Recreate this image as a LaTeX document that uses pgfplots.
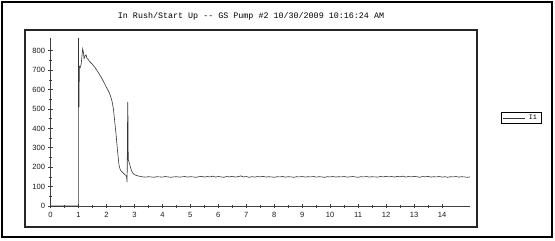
\documentclass[border=0pt]{standalone}
\usepackage{fontspec}
\setmainfont{Liberation Sans}
\setmonofont{Liberation Mono}
\usepackage{pgfplots}
\pgfplotsset{compat=1.18}
\begin{document}
\begin{tikzpicture}[x=1bp,y=1bp]
% pixel (px,py) -> (px-50.5, 206-py)
\useasboundingbox (-50.5,206) rectangle (504.5,-34);
\draw[line width=1.3bp,black] (-48.5,204) rectangle (501.5,-31);
\draw[line width=1.3bp,black!85] (-25.5,176) rectangle (426.5,-21);
\node[font=\ttfamily\fontsize{8.4}{9}\selectfont] at (200.5,190) {In Rush/Start Up -- GS Pump \#2 10/30/2009 10:16:24 AM};
\begin{axis}[
  at={(0,0)}, anchor=south west, scale only axis,
  width=419.5bp, height=168bp,
  xmin=0, xmax=15, ymin=0, ymax=866,
  clip=false,
  axis lines=left,
  axis line style={-, black!75, line width=0.9bp},
  xtick={0,1,...,14}, ytick={0,100,...,800},
  minor x tick num=1, minor y tick num=1,
  tick align=center,
  major tick length=4bp, minor tick length=3bp,
  every tick/.style={black!75, line width=0.8bp},
  ticklabel style={font=\fontsize{7.6}{8}\selectfont, text=black!90},
  /pgf/number format/assume math mode=true,
  xticklabel style={yshift=-0.5bp},
  legend style={at={(1.123,0.521)}, anchor=center, draw=black, line width=1bp,
    font=\ttfamily\fontsize{6.8}{7}\selectfont, inner sep=0.5bp, row sep=0pt,
    nodes={inner ysep=2bp, inner xsep=4bp}},
  legend image code/.code={\draw[#1] (2bp,0bp) -- (24bp,0bp);},
]
\addplot[black!80, line width=0.6bp] coordinates {
(0,0) (0.995,0) (1.0,866) (1.01,700) (1.02,510) (1.03,720) (1.07,715) (1.1,735)
(1.15,810) (1.18,790) (1.2,760) (1.24,775) (1.27,780) (1.3,762) (1.35,755) (1.4,745)
(1.5,730) (1.6,712) (1.7,690) (1.8,667) (1.9,640) (2.0,612) (2.1,585) (2.15,565)
(2.2,540) (2.25,500) (2.3,430) (2.35,360) (2.4,280) (2.45,210) (2.5,185) (2.55,177)
(2.6,170) (2.65,162) (2.7,158) (2.72,150) (2.74,122) (2.76,537) (2.77,460) (2.78,240)
(2.8,230) (2.85,205) (2.9,180) (2.95,168) (3.0,162) (3.1,156) (3.2,153)
(3.3,150) (3.4,149) (3.5,151) (3.6,150) (3.7,148) (3.8,151) (3.9,150) (4.0,149)
(4.1,152) (4.2,150) (4.3,148) (4.4,150) (4.5,151) (4.6,149) (4.7,150) (4.8,152)
(4.9,149) (5.0,151) (5.1,150) (5.2,148) (5.3,151) (5.4,153) (5.5,149) (5.6,152)
(5.7,150) (5.8,154) (5.9,149) (6.0,152) (6.1,150) (6.2,148) (6.3,152) (6.4,150)
(6.5,153) (6.6,149) (6.7,151) (6.8,155) (6.9,150) (7.0,152) (7.1,148) (7.2,151)
(7.3,149) (7.4,152) (7.5,150) (7.6,153) (7.7,149) (7.8,151) (7.9,150) (8.0,148)
(8.1,151) (8.2,150) (8.3,152) (8.4,149) (8.5,151) (8.6,150) (8.7,148) (8.8,151)
(8.9,150) (9.0,152) (9.1,149) (9.2,151) (9.3,150) (9.4,152) (9.5,149) (9.6,151)
(9.7,150) (9.8,148) (9.9,151) (10.0,150) (10.1,152) (10.2,149) (10.3,151) (10.4,150)
(10.5,152) (10.6,149) (10.7,150) (10.8,152) (10.9,150) (11.0,148) (11.1,151) (11.2,150)
(11.3,152) (11.4,149) (11.5,151) (11.6,150) (11.7,149) (11.8,152) (11.9,150) (12.0,153)
(12.1,150) (12.2,152) (12.3,149) (12.4,153) (12.5,150) (12.6,154) (12.7,149) (12.8,152)
(12.9,150) (13.0,153) (13.1,151) (13.2,148) (13.3,152) (13.4,150) (13.5,153) (13.6,149)
(13.7,151) (13.8,150) (13.9,152) (14.0,149) (14.1,151) (14.2,148) (14.3,151) (14.4,150)
(14.5,152) (14.6,149) (14.7,151) (14.8,150) (14.9,148) (15.0,150)
};
\addlegendentry{I1}
\end{axis}
\end{tikzpicture}
\end{document}
